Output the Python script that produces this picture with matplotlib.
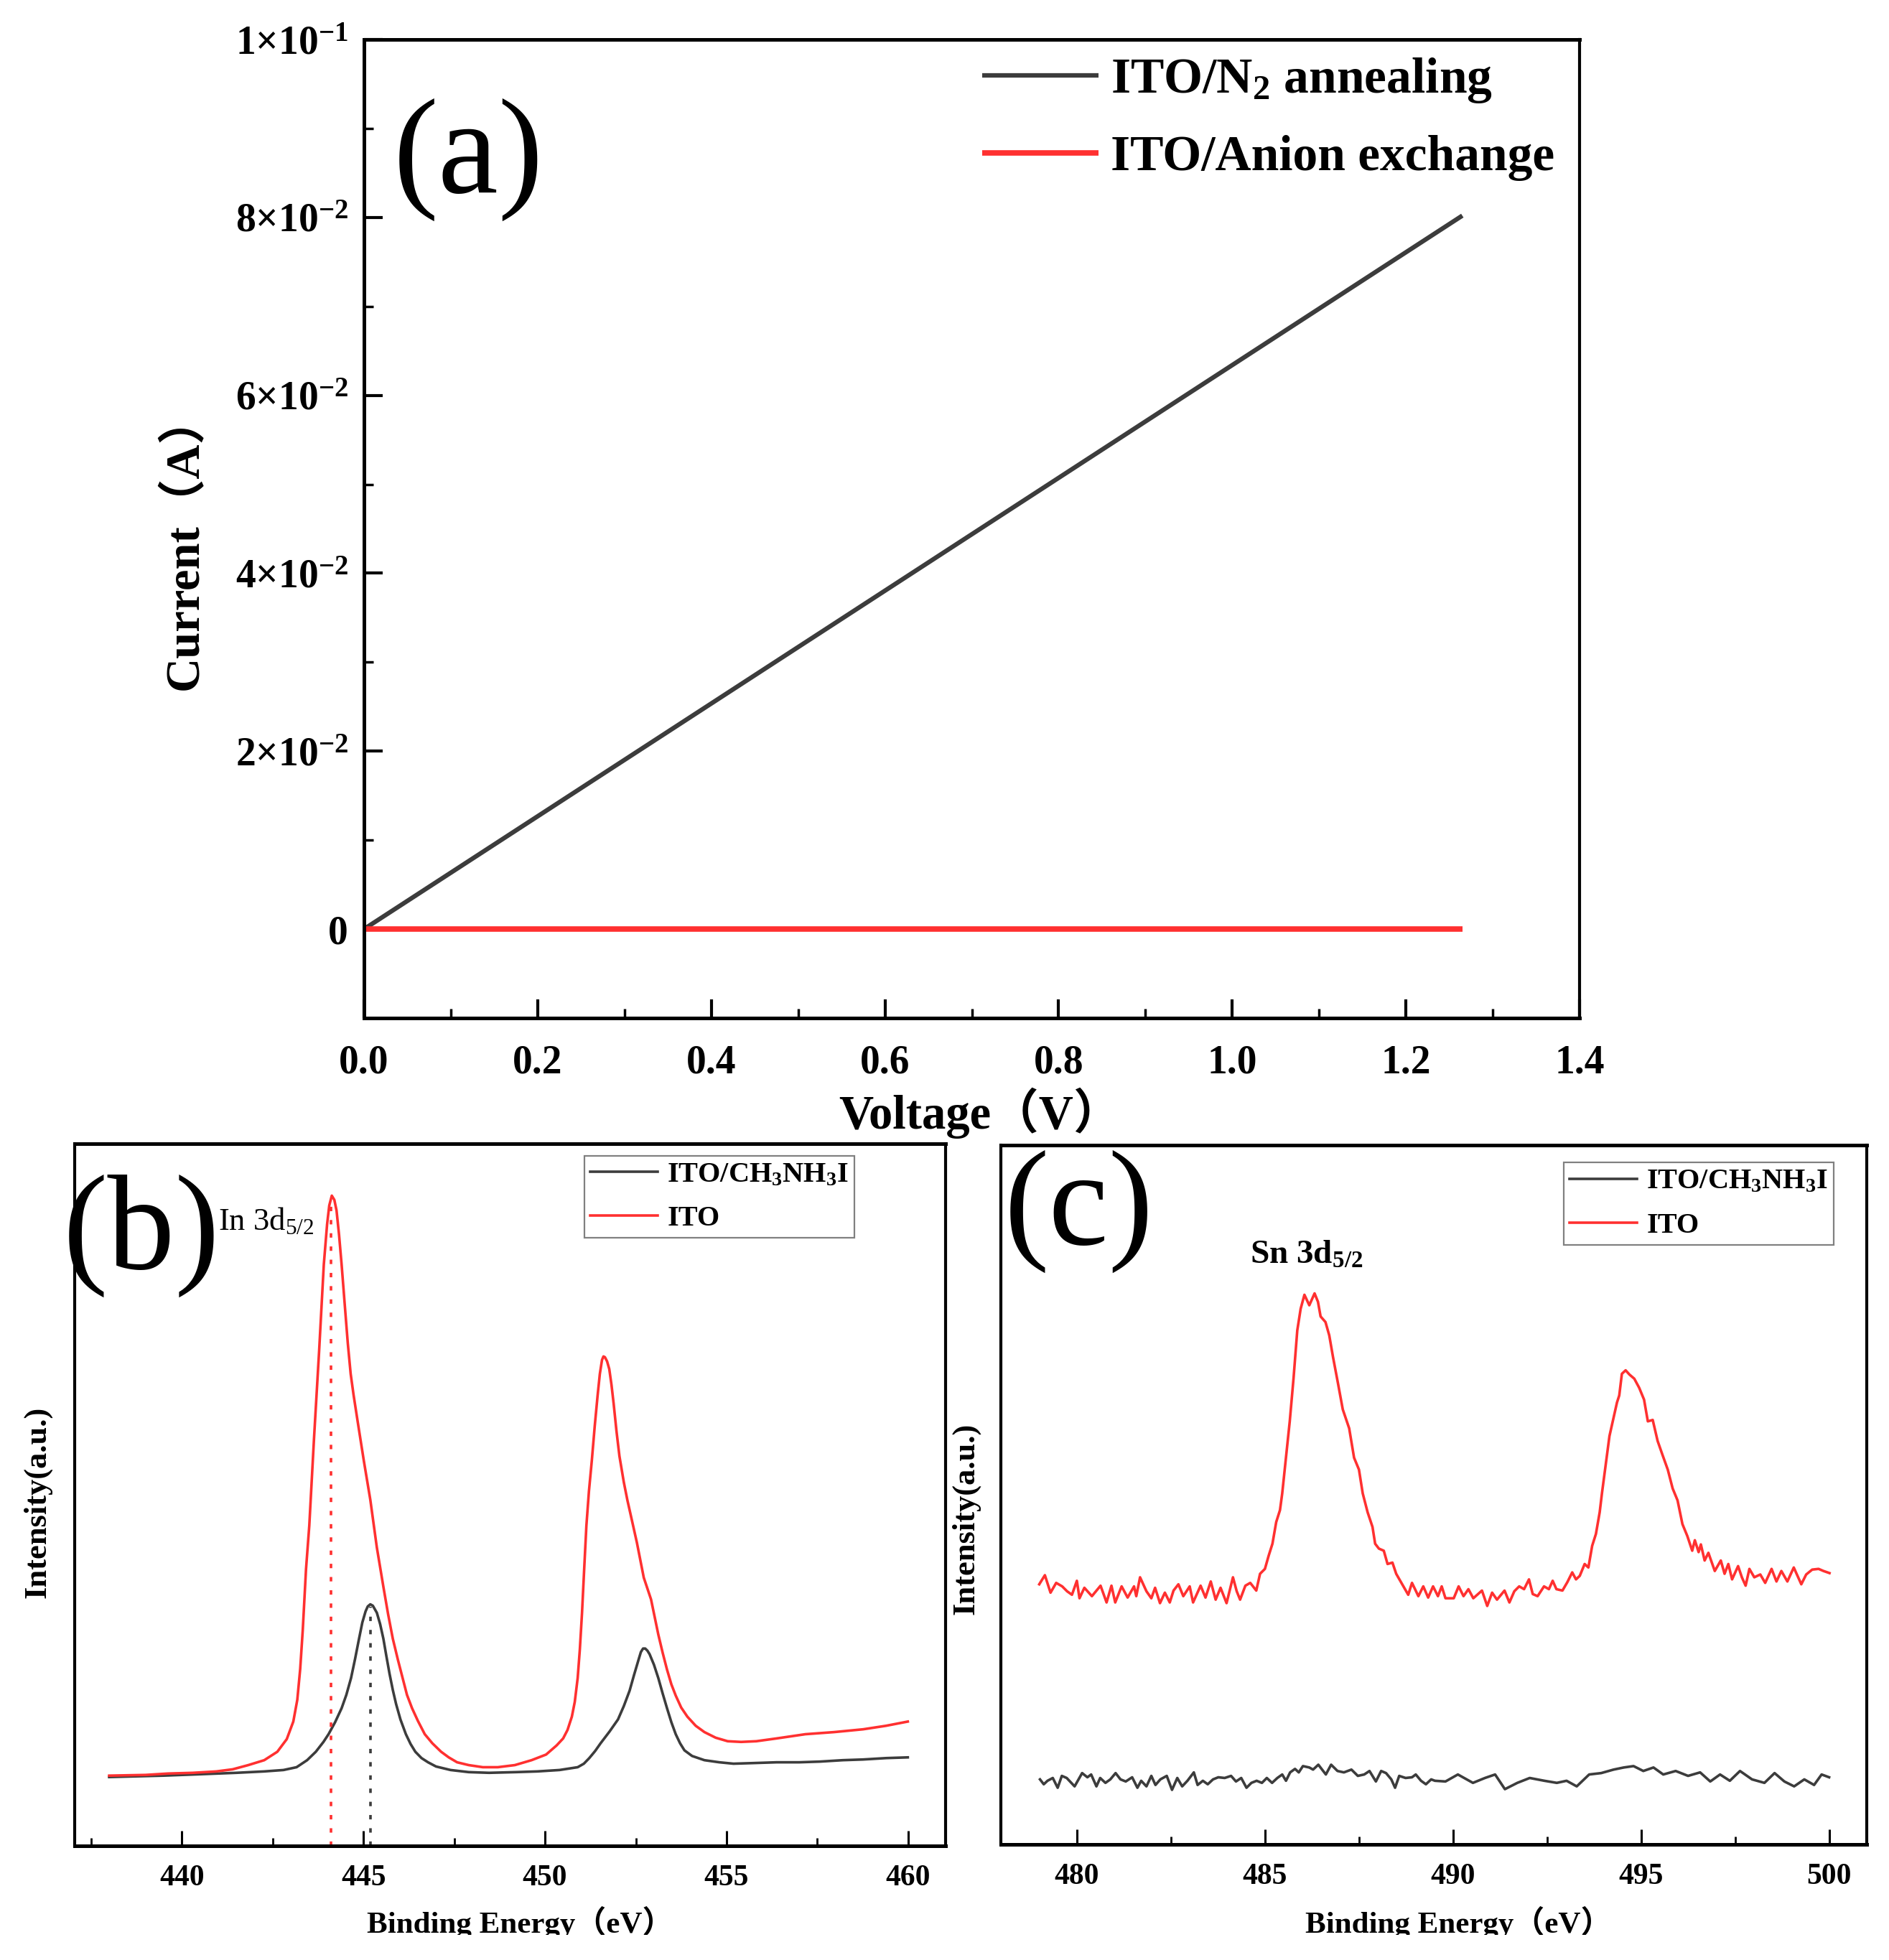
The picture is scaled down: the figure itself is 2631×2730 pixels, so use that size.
import matplotlib
matplotlib.use('Agg')
import matplotlib.pyplot as plt
from matplotlib.ticker import MultipleLocator
from matplotlib.patches import Rectangle

plt.rcParams['font.family'] = ['Liberation Serif', 'Noto Sans CJK SC', 'DejaVu Sans']
plt.rcParams['mathtext.fontset'] = 'custom'
plt.rcParams['mathtext.rm'] = 'Liberation Serif:bold'
plt.rcParams['mathtext.it'] = 'Liberation Serif:italic:bold'
plt.rcParams['mathtext.bf'] = 'Liberation Serif:bold'

SERIF = ['Liberation Serif', 'Noto Sans CJK SC', 'DejaVu Sans']
BLACK = '#3c3c3c'
RED = '#ff3030'

# ---------------- data: panel (a) ----------------
voltage = [0.0, 1.265]
current_n2 = [0.0, 0.0802]
current_anion = [0.0, 0.0]
voltage_ticks = [0.0, 0.2, 0.4, 0.6, 0.8, 1.0, 1.2, 1.4]
voltage_tick_labels = ['0.0', '0.2', '0.4', '0.6', '0.8', '1.0', '1.2', '1.4']
current_ticks = [0.0, 0.02, 0.04, 0.06, 0.08, 0.1]
current_tick_labels = ['0',
                       r'$\mathregular{2{\times}10^{-2}}$',
                       r'$\mathregular{4{\times}10^{-2}}$',
                       r'$\mathregular{6{\times}10^{-2}}$',
                       r'$\mathregular{8{\times}10^{-2}}$',
                       r'$\mathregular{1{\times}10^{-1}}$']

# ---------------- data: panel (b) In 3d ----------------
be_b_ito = [438.0, 439.0, 439.62, 440.3, 440.95, 441.4, 441.83, 442.27, 442.63, 442.89,
            443.07, 443.18, 443.26, 443.33, 443.42, 443.51, 443.64, 443.78, 443.91, 444.0,
            444.06, 444.13, 444.2, 444.26, 444.33, 444.40, 444.48, 444.57, 444.65, 444.73,
            444.84, 445.01, 445.19, 445.37, 445.55, 445.68, 445.81, 445.95, 446.08, 446.2,
            446.34, 446.5, 446.69, 446.9, 447.14, 447.35, 447.58, 447.9, 448.29, 448.7,
            449.17, 449.63, 450.03, 450.32, 450.50, 450.62, 450.74, 450.82, 450.90, 450.96,
            451.02, 451.08, 451.14, 451.21, 451.29, 451.37, 451.45, 451.51, 451.57, 451.61,
            451.65, 451.71, 451.77, 451.83, 451.89, 451.97, 452.05, 452.17, 452.27, 452.37,
            452.53, 452.72, 452.92, 453.02, 453.12, 453.24, 453.36, 453.48, 453.60, 453.75,
            453.92, 454.15, 454.39, 454.7, 455.03, 455.4, 455.82, 456.38, 457.17, 457.96,
            458.76, 459.39, 459.99]
int_b_ito = [0.100, 0.101, 0.103, 0.104, 0.106, 0.109, 0.115, 0.122, 0.134, 0.152,
             0.177, 0.208, 0.252, 0.307, 0.394, 0.456, 0.580, 0.704, 0.828, 0.885,
             0.912, 0.926, 0.920, 0.905, 0.870, 0.828, 0.775, 0.716, 0.672, 0.642,
             0.605, 0.549, 0.493, 0.425, 0.369, 0.330, 0.295, 0.265, 0.239, 0.215,
             0.196, 0.178, 0.159, 0.146, 0.134, 0.126, 0.119, 0.115, 0.112, 0.112,
             0.115, 0.122, 0.130, 0.143, 0.153, 0.165, 0.184, 0.205, 0.239, 0.280,
             0.332, 0.395, 0.456, 0.505, 0.549, 0.598, 0.642, 0.672, 0.692, 0.697,
             0.696, 0.690, 0.679, 0.657, 0.630, 0.590, 0.555, 0.518, 0.492, 0.469,
             0.432, 0.382, 0.351, 0.326, 0.301, 0.275, 0.251, 0.230, 0.214, 0.197,
             0.184, 0.171, 0.162, 0.154, 0.149, 0.148, 0.149, 0.153, 0.159, 0.162,
             0.166, 0.171, 0.177]
be_b_ch = [438.0, 439.5, 440.51, 441.5, 442.27, 442.8, 443.16, 443.45, 443.69, 443.90,
           444.04, 444.22, 444.40, 444.53, 444.66, 444.77, 444.88, 444.97, 445.06, 445.12,
           445.19, 445.26, 445.37, 445.46, 445.55, 445.63, 445.72, 445.81, 445.90, 446.02,
           446.17, 446.30, 446.43, 446.60, 446.78, 447.0, 447.40, 447.9, 448.46, 449.2,
           449.79, 450.4, 450.90, 451.07, 451.22, 451.38, 451.53, 451.78, 452.01, 452.17,
           452.33, 452.45, 452.57, 452.64, 452.70, 452.76, 452.82, 452.88, 453.0, 453.12,
           453.24, 453.36, 453.48, 453.60, 453.72, 453.84, 454.05, 454.39, 454.8, 455.19,
           455.8, 456.38, 457.0, 457.57, 458.2, 458.76, 459.4, 459.99]
int_b_ch = [0.098, 0.100, 0.102, 0.104, 0.106, 0.108, 0.112, 0.122, 0.134, 0.148,
            0.159, 0.176, 0.196, 0.215, 0.239, 0.266, 0.295, 0.318, 0.334, 0.341,
            0.344, 0.342, 0.332, 0.316, 0.295, 0.271, 0.245, 0.222, 0.202, 0.180,
            0.159, 0.145, 0.134, 0.125, 0.119, 0.113, 0.108, 0.105, 0.104, 0.105,
            0.106, 0.108, 0.112, 0.117, 0.125, 0.135, 0.146, 0.163, 0.180, 0.199,
            0.221, 0.243, 0.264, 0.276, 0.281, 0.281, 0.278, 0.273, 0.258, 0.239,
            0.217, 0.196, 0.176, 0.159, 0.146, 0.136, 0.128, 0.122, 0.119, 0.117,
            0.118, 0.119, 0.119, 0.120, 0.122, 0.123, 0.125, 0.126]
peak_pos_b = [444.1, 445.2]
peak_top_b = [0.92, 0.34]
ticks_b = [440, 445, 450, 455, 460]
tick_labels_b = ['440', '445', '450', '455', '460']

# ---------------- data: panel (c) Sn 3d ----------------
be_c_ito = [479.0, 479.15, 479.3, 479.45, 479.61, 479.74, 479.87, 480.00, 480.07, 480.20,
            480.40, 480.63, 480.79, 480.92, 481.02, 481.19, 481.35, 481.52, 481.58, 481.68,
            481.85, 481.98, 482.08, 482.21, 482.34, 482.47, 482.57, 482.70, 482.83, 483.00,
            483.09, 483.29, 483.42, 483.56, 483.69, 483.82, 483.98, 484.15, 484.25, 484.34,
            484.48, 484.61, 484.77, 484.87, 485.00, 485.10, 485.20, 485.30, 485.40, 485.46,
            485.56, 485.66, 485.76, 485.86, 485.95, 486.05, 486.18, 486.32, 486.41, 486.48,
            486.61, 486.71, 486.81, 486.94, 487.07, 487.24, 487.37, 487.50, 487.60, 487.73,
            487.86, 487.93, 488.03, 488.16, 488.26, 488.39, 488.49, 488.65, 488.81, 488.91,
            489.08, 489.21, 489.34, 489.47, 489.60, 489.70, 489.80,
            490.02, 490.15, 490.28, 490.41, 490.54, 490.77, 490.91, 491.04, 491.17, 491.37,
            491.50, 491.63, 491.76, 491.89, 492.02, 492.12, 492.25, 492.42, 492.55, 492.65,
            492.75, 492.91, 493.04, 493.17, 493.27, 493.37, 493.50, 493.60, 493.70, 493.80,
            493.90, 493.96, 494.06, 494.16, 494.26, 494.36, 494.42, 494.49, 494.59, 494.69,
            494.82, 494.95, 495.08, 495.18, 495.31, 495.44, 495.57, 495.71, 495.84, 495.97,
            496.10, 496.23, 496.36, 496.43, 496.53, 496.59, 496.69, 496.79, 496.96, 497.12,
            497.22, 497.32, 497.42, 497.58, 497.68, 497.78, 497.88, 498.01, 498.17, 498.30,
            498.47, 498.60, 498.73, 498.89, 499.06, 499.26, 499.39, 499.55, 499.72, 499.85,
            500.01]
int_c_ito = [0.372, 0.385, 0.360, 0.374, 0.369, 0.362, 0.357, 0.377, 0.352, 0.367,
             0.355, 0.370, 0.346, 0.370, 0.346, 0.369, 0.353, 0.369, 0.355, 0.382,
             0.362, 0.352, 0.367, 0.345, 0.360, 0.346, 0.363, 0.372, 0.355, 0.369,
             0.346, 0.370, 0.353, 0.376, 0.350, 0.367, 0.345, 0.382, 0.362, 0.350,
             0.370, 0.374, 0.363, 0.387, 0.394, 0.413, 0.430, 0.461, 0.478, 0.502,
             0.553, 0.605, 0.666, 0.735, 0.766, 0.786, 0.771, 0.788, 0.776, 0.755,
             0.747, 0.728, 0.697, 0.660, 0.622, 0.595, 0.553, 0.536, 0.502, 0.475,
             0.454, 0.430, 0.423, 0.420, 0.401, 0.403, 0.387, 0.372, 0.357, 0.374,
             0.355, 0.369, 0.353, 0.369, 0.355, 0.369, 0.352,
             0.352, 0.369, 0.355, 0.365, 0.352, 0.363, 0.341, 0.360, 0.350, 0.363,
             0.346, 0.362, 0.369, 0.365, 0.379, 0.358, 0.355, 0.369, 0.365, 0.377,
             0.365, 0.363, 0.375, 0.389, 0.379, 0.384, 0.401, 0.396, 0.427, 0.444,
             0.475, 0.502, 0.543, 0.584, 0.608, 0.632, 0.642, 0.673, 0.678, 0.672,
             0.666, 0.653, 0.636, 0.605, 0.607, 0.577, 0.557, 0.536, 0.509, 0.492,
             0.458, 0.441, 0.420, 0.435, 0.418, 0.429, 0.406, 0.417, 0.391, 0.406,
             0.387, 0.401, 0.379, 0.398, 0.382, 0.370, 0.394, 0.382, 0.386, 0.374,
             0.394, 0.376, 0.391, 0.376, 0.396, 0.372, 0.386, 0.393, 0.394, 0.391,
             0.388]
be_c_ch = [479.02, 479.12, 479.22, 479.36, 479.49, 479.60, 479.73, 479.94, 480.14, 480.28,
           480.38, 480.52, 480.62, 480.76, 480.89, 481.03, 481.16, 481.30, 481.47, 481.61,
           481.71, 481.85, 481.98, 482.09, 482.22, 482.39, 482.53, 482.67, 482.80, 482.94,
           483.11, 483.21, 483.35, 483.48, 483.62, 483.76, 483.93, 484.10, 484.23, 484.37,
           484.51, 484.64, 484.78, 484.92, 485.05, 485.19, 485.33, 485.46, 485.56, 485.67,
           485.80, 485.90, 486.01, 486.18, 486.28, 486.42, 486.62, 486.76, 486.93, 487.10,
           487.30, 487.47, 487.64, 487.78, 487.95, 488.09, 488.22, 488.36, 488.46, 488.57,
           488.74, 488.91, 489.01, 489.15, 489.28, 489.42, 489.52,
           489.80, 490.13, 490.53, 490.85, 491.12, 491.38, 491.71, 492.04, 492.43, 492.76,
           493.02, 493.29, 493.62, 493.94, 494.27, 494.54, 494.80, 495.06, 495.33, 495.59,
           495.92, 496.25, 496.57, 496.84, 497.10, 497.36, 497.63, 497.95, 498.28, 498.55,
           498.81, 499.07, 499.34, 499.60, 499.80, 500.00]
int_c_ch = [0.093, 0.086, 0.091, 0.095, 0.081, 0.098, 0.095, 0.083, 0.102, 0.096,
            0.100, 0.083, 0.095, 0.088, 0.093, 0.102, 0.093, 0.090, 0.096, 0.081,
            0.091, 0.083, 0.098, 0.085, 0.093, 0.098, 0.078, 0.095, 0.083, 0.091,
            0.103, 0.085, 0.091, 0.086, 0.093, 0.096, 0.095, 0.098, 0.090, 0.095,
            0.081, 0.088, 0.091, 0.088, 0.095, 0.088, 0.095, 0.100, 0.091, 0.103,
            0.108, 0.103, 0.112, 0.110, 0.107, 0.114, 0.100, 0.114, 0.105, 0.103,
            0.107, 0.098, 0.100, 0.105, 0.090, 0.105, 0.102, 0.093, 0.081, 0.098,
            0.095, 0.096, 0.100, 0.091, 0.086, 0.093, 0.091,
            0.090, 0.100, 0.088, 0.095, 0.100, 0.079, 0.088, 0.095, 0.091, 0.088,
            0.091, 0.083, 0.100, 0.102, 0.107, 0.110, 0.112, 0.105, 0.110, 0.100,
            0.105, 0.098, 0.103, 0.090, 0.100, 0.091, 0.105, 0.093, 0.088, 0.102,
            0.090, 0.083, 0.093, 0.085, 0.100, 0.096]
ticks_c = [480, 485, 490, 495, 500]
tick_labels_c = ['480', '485', '490', '495', '500']

# ---------------- figure ----------------
W, H = 2631, 2730
fig = plt.figure(figsize=(W / 100, H / 100), dpi=100)
fig.patch.set_facecolor('white')


def frac(left, top, right, bottom):
    return [left / W, (H - bottom) / H, (right - left) / W, (bottom - top) / H]


# ===== panel (a) =====
ax = fig.add_axes(frac(507, 55, 2200, 1418))
ax.plot(voltage, current_n2, color=BLACK, lw=4.5, solid_capstyle='butt',
        label=r'ITO/N$_\mathregular{2}$ annealing')
ax.plot(voltage, current_anion, color=RED, lw=5.5, solid_capstyle='butt',
        label='ITO/Anion exchange')
ax.set_xlim(0, 1.4)
ax.set_ylim(-0.01, 0.1)
ax.set_xticks(voltage_ticks, labels=voltage_tick_labels, fontsize=40, fontweight='bold')
ax.set_yticks(current_ticks, labels=current_tick_labels, fontsize=40, fontweight='bold')
ax.xaxis.set_minor_locator(MultipleLocator(0.1))
ax.yaxis.set_minor_locator(MultipleLocator(0.01))
ax.tick_params(which='both', direction='in', top=False, right=False)
ax.tick_params(which='major', length=19, width=3)
ax.tick_params(which='minor', length=9.5, width=2.5)
ax.tick_params(axis='x', which='major', pad=26)
ax.tick_params(axis='y', which='major', pad=16)
for s in ['left', 'bottom', 'top']:
    ax.spines[s].set_linewidth(3.6)
ax.spines['right'].set_linewidth(3.0)
ax.set_xlabel('Voltage（V）', fontsize=48, fontweight='bold', family=SERIF)
ax.xaxis.set_label_coords(0.507, -0.071)
ax.set_ylabel('Current（A）', fontsize=48, fontweight='bold', family=SERIF)
ax.yaxis.set_label_coords(-0.129, 0.487)
leg = ax.legend(loc='upper left', bbox_to_anchor=(0.5086, 0.983), frameon=False,
                prop=dict(family='Liberation Serif', weight='bold', size=50),
                handlelength=2.33, handletextpad=0.25, labelspacing=0.6,
                borderpad=0, borderaxespad=0)
ax.text(0.086, 0.877, '(a)', transform=ax.transAxes, fontsize=136,
        ha='center', va='center', family='Liberation Serif')


def style_xps(ax, ticks, labels, xlim):
    ax.set_xlim(*xlim)
    ax.set_ylim(0, 1)
    ax.set_xticks(ticks, labels=labels, fontsize=30, fontweight='bold')
    ax.xaxis.set_minor_locator(MultipleLocator(2.5))
    ax.set_yticks([])
    ax.tick_params(axis='x', which='both', direction='in', top=False)
    ax.tick_params(axis='x', which='major', length=15, width=2.2, pad=19)
    ax.tick_params(axis='x', which='minor', length=8, width=2)
    for s in ['left', 'right']:
        ax.spines[s].set_linewidth(3.0)
    for s in ['top', 'bottom']:
        ax.spines[s].set_linewidth(3.6)


# ===== panel (b) =====
axb = fig.add_axes(frac(104, 1593, 1317, 2571))
axb.plot(be_b_ch, int_b_ch, color=BLACK, lw=2.6, label=r'ITO/CH$_\mathregular{3}$NH$_\mathregular{3}$I')
axb.plot(be_b_ito, int_b_ito, color=RED, lw=2.6, label='ITO')
axb.vlines(peak_pos_b[0], 0, peak_top_b[0], colors=RED, lw=2.6, linestyles=(0, (1.7, 3.4)))
axb.vlines(peak_pos_b[1], 0, peak_top_b[1], colors=BLACK, lw=2.6, linestyles=(0, (1.7, 3.4)))
style_xps(axb, ticks_b, tick_labels_b, (437.05, 461.03))
axb.set_xlabel('Binding Energy（eV）', fontsize=31, fontweight='bold', family=SERIF)
axb.xaxis.set_label_coords(0.511, -0.086)
axb.set_ylabel('Intensity(a.u.)', fontsize=32, fontweight='bold', family=SERIF)
axb.yaxis.set_label_coords(-0.026, 0.489)
lb = axb.legend(loc='upper left', bbox_to_anchor=(0.585, 0.983), frameon=True, fancybox=False,
                edgecolor='#808080', framealpha=1,
                prop=dict(family='Liberation Serif', weight='bold', size=29),
                handlelength=2.35, handletextpad=0.32, labelspacing=0.6,
                borderpad=0.2, borderaxespad=0)
lb.get_frame().set_linewidth(1.6)
axb.text(0.077, 0.869, '(b)', transform=axb.transAxes, fontsize=135,
         ha='center', va='center', family='Liberation Serif')
axb.text(441.0, 0.877, r'In 3d$_\mathregular{5/2}$', fontsize=32, fontweight='normal',
         ha='left', va='baseline', family='Liberation Serif')

# ===== panel (c) =====
axc = fig.add_axes(frac(1393.5, 1595, 2600, 2569))
axc.plot(be_c_ch, int_c_ch, color=BLACK, lw=2.6, label=r'ITO/CH$_\mathregular{3}$NH$_\mathregular{3}$I')
axc.plot(be_c_ito, int_c_ito, color=RED, lw=2.6, label='ITO')
style_xps(axc, ticks_c, tick_labels_c, (477.97, 501.0))
axc.set_xlabel('Binding Energy（eV）', fontsize=31, fontweight='bold', family=SERIF)
axc.xaxis.set_label_coords(0.529, -0.088)
axc.set_ylabel('Intensity(a.u.)', fontsize=32, fontweight='bold', family=SERIF)
axc.yaxis.set_label_coords(-0.023, 0.466)
lc = axc.legend(loc='upper left', bbox_to_anchor=(0.650, 0.975), frameon=True, fancybox=False,
                edgecolor='#808080', framealpha=1,
                prop=dict(family='Liberation Serif', weight='bold', size=29),
                handlelength=2.35, handletextpad=0.32, labelspacing=0.6,
                borderpad=0.2, borderaxespad=0)
lc.get_frame().set_linewidth(1.6)
axc.text(0.091, 0.905, '(c)', transform=axc.transAxes, fontsize=135,
         ha='center', va='center', family='Liberation Serif')
axc.text(484.61, 0.831, r'Sn 3d$_\mathregular{5/2}$', fontsize=34, fontweight='bold',
         ha='left', va='baseline', family='Liberation Serif')

# the reference image is cropped just below the x-axis titles
fig.add_artist(Rectangle((0, 0), 1, 35 / H, transform=fig.transFigure,
                         facecolor='white', edgecolor='none', zorder=100))

fig.savefig('out.png', dpi=100)
